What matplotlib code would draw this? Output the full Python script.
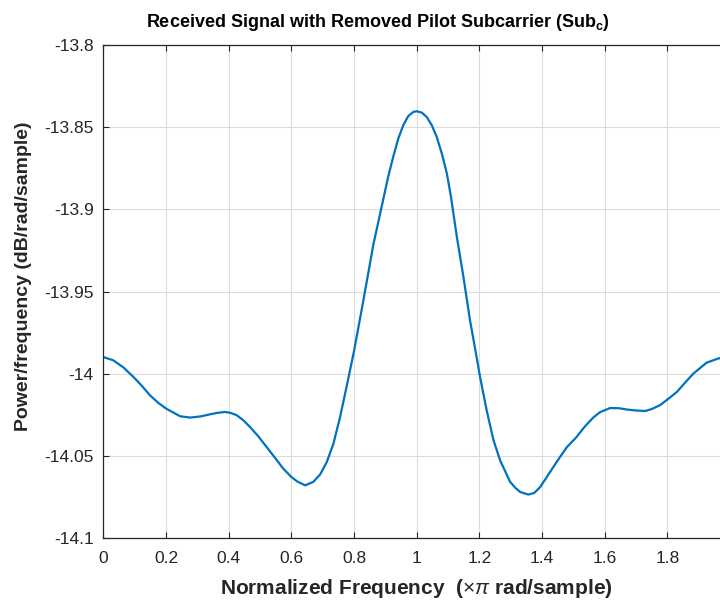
import matplotlib
matplotlib.use("Agg")
import matplotlib.pyplot as plt
from matplotlib.ticker import FuncFormatter

# values (x in units of pi rad/sample, y in dB/rad/sample)
freq = [0.000, 0.032, 0.064, 0.096, 0.122, 0.149, 0.175, 0.200, 0.245, 0.277,
        0.310, 0.341, 0.365, 0.388, 0.405, 0.426, 0.447, 0.468, 0.495, 0.521,
        0.548, 0.574, 0.600, 0.620, 0.644, 0.670, 0.692, 0.713, 0.734, 0.755,
        0.777, 0.800, 0.830, 0.862, 0.893, 0.909, 0.925, 0.941, 0.957, 0.973,
        0.989, 1.000, 1.016, 1.032, 1.048, 1.064, 1.080, 1.096, 1.109, 1.128,
        1.149, 1.170, 1.191, 1.202, 1.223, 1.245, 1.266, 1.298, 1.315, 1.330,
        1.356, 1.375, 1.394, 1.436, 1.457, 1.479, 1.510, 1.536, 1.563, 1.585,
        1.617, 1.645, 1.670, 1.700, 1.729, 1.750, 1.776, 1.800, 1.830, 1.855,
        1.883, 1.925, 1.962, 1.990]
psd = [-13.9897, -13.9917, -13.9960, -14.0018, -14.0070, -14.0130, -14.0175, -14.0210, -14.0257, -14.0265,
       -14.0258, -14.0245, -14.0236, -14.0231, -14.0236, -14.0251, -14.0282, -14.0322, -14.0380, -14.0444,
       -14.0510, -14.0575, -14.0626, -14.0655, -14.0677, -14.0656, -14.0610, -14.0535, -14.0425, -14.0265,
       -14.0070, -13.9860, -13.9550, -13.9210, -13.8940, -13.8800, -13.8680, -13.8570, -13.8488, -13.8432,
       -13.8407, -13.8403, -13.8411, -13.8438, -13.8488, -13.8560, -13.8660, -13.8780, -13.8920, -13.9167,
       -13.9410, -13.9674, -13.9897, -14.0018, -14.0220, -14.0403, -14.0525, -14.0656, -14.0693, -14.0717,
       -14.0733, -14.0723, -14.0687, -14.0565, -14.0505, -14.0445, -14.0383, -14.0320, -14.0265, -14.0232,
       -14.0207, -14.0208, -14.0216, -14.0222, -14.0225, -14.0213, -14.0190, -14.0155, -14.0109, -14.0055,
       -13.9997, -13.9931, -13.9906, -13.9895]

xticks = [0, 0.2, 0.4, 0.6, 0.8, 1, 1.2, 1.4, 1.6, 1.8]
yticks = [-14.1, -14.05, -14.0, -13.95, -13.9, -13.85, -13.8]

plt.rcParams["font.family"] = ["Liberation Sans", "DejaVu Sans"]
plt.rcParams["axes.unicode_minus"] = False
plt.rcParams["mathtext.fontset"] = "custom"
plt.rcParams["mathtext.rm"] = "Liberation Sans"
plt.rcParams["mathtext.it"] = "Liberation Sans:italic"
plt.rcParams["mathtext.bf"] = "Liberation Sans:bold"

dark = "#262626"
fig = plt.figure(figsize=(7.2, 6.02), dpi=100)
# axes run slightly past the right edge, like the cropped reference
ax = fig.add_axes([0.1435, 0.1055, 0.8706, 0.8198])

ax.plot(freq, psd, color="#0072BD", lw=1.6)

ax.set_xlim(0, 2)
ax.set_ylim(-14.1, -13.8)
ax.set_xticks(xticks)
ax.set_yticks(yticks)
ax.yaxis.set_major_formatter(FuncFormatter(lambda v, p: "%g" % round(v, 2)))
ax.xaxis.set_major_formatter(FuncFormatter(lambda v, p: "%g" % round(v, 2)))
ax.tick_params(direction="in", length=4, width=0.8, colors=dark, labelsize=12.5,
               top=True, right=True)
ax.tick_params(axis="x", pad=9)
ax.tick_params(axis="y", pad=7)
for s in ax.spines.values():
    s.set_color(dark)
    s.set_linewidth(0.9)
ax.grid(True, color="#dcdcdc", lw=0.8)
ax.set_axisbelow(True)

ax.set_xlabel(r"Normalized Frequency  ($\times\pi$ rad/sample)", fontsize=15,
              fontweight="bold", color=dark, labelpad=8)
ax.set_ylabel("Power/frequency (dB/rad/sample)", fontsize=14, fontweight="bold",
              color=dark)
ax.yaxis.set_label_coords(-0.114, 0.532)
ax.set_title(r"Received Signal with Removed Pilot Subcarrier (Sub$_{\mathbf{c}}$)",
             fontsize=13, fontweight="bold", color="black", pad=13, x=0.438)

fig.savefig("out.png", dpi=100)
